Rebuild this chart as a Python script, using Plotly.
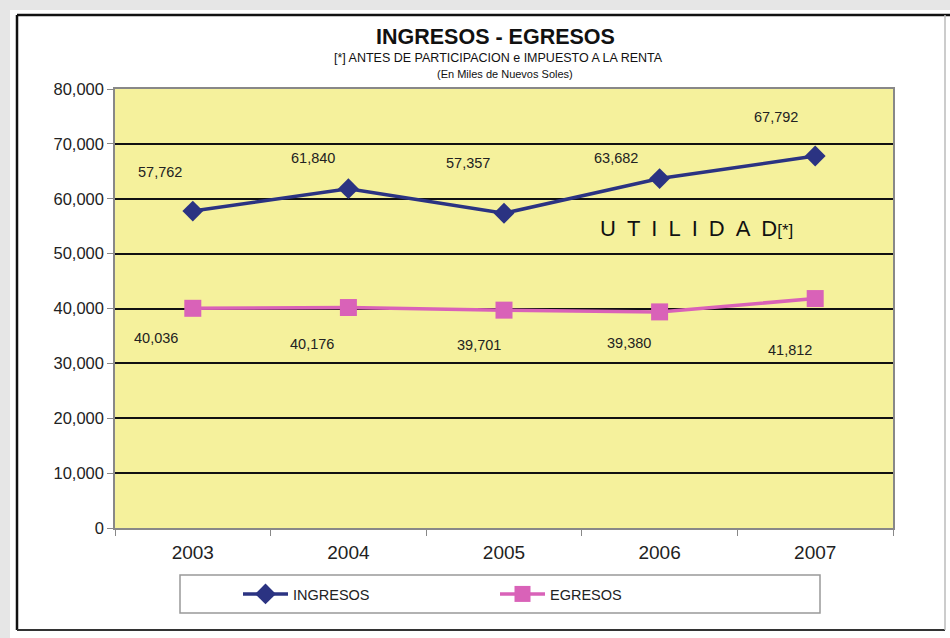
import plotly.graph_objects as go

years = ["2003", "2004", "2005", "2006", "2007"]
ingresos = [57762, 61840, 57357, 63682, 67792]
egresos = [40036, 40176, 39701, 39380, 41812]
y_ticks = [0, 10000, 20000, 30000, 40000, 50000, 60000, 70000, 80000]

# label offsets (px) for data labels
ing_dx = [-33, -35, -36, -44, -39]
ing_dy = [39, 31, 50, 21, 39]
egr_dx = [-37, -36, -25, -31, -25]
egr_dy = [-30, -36, -35, -31, -51]

W, H = 950, 638
L, R, T, B = 115, 893, 89, 528
pw, ph = R - L, B - T

def px(x):
    return (x - L) / pw

def py(y):
    return (B - y) / ph

NAVY = "#2B3382"
PINK = "#D962B8"
FONT = "Arial, Liberation Sans, sans-serif"

fig = go.Figure()
fig.add_trace(go.Scatter(
    x=years, y=ingresos, name="INGRESOS", mode="lines+markers",
    line=dict(color=NAVY, width=3.5),
    marker=dict(symbol="diamond", size=16, color=NAVY),
))
fig.add_trace(go.Scatter(
    x=years, y=egresos, name="EGRESOS", mode="lines+markers",
    line=dict(color=PINK, width=3.5),
    marker=dict(symbol="square", size=17, color=PINK),
))

annotations = []
for i, (v, dx, dy) in enumerate(zip(ingresos, ing_dx, ing_dy)):
    annotations.append(dict(x=i, y=v, xref="x", yref="y", text=f"{v:,}", showarrow=False,
                            xshift=dx, yshift=dy, font=dict(family=FONT, size=14.5, color="#222")))
for i, (v, dx, dy) in enumerate(zip(egresos, egr_dx, egr_dy)):
    annotations.append(dict(x=i, y=v, xref="x", yref="y", text=f"{v:,}", showarrow=False,
                            xshift=dx, yshift=dy, font=dict(family=FONT, size=14.5, color="#222")))

annotations.append(dict(
    x=px(598), y=py(228), xref="paper", yref="paper", xanchor="left", yanchor="middle",
    text="U\u2002T\u2002I\u2002L\u2002I\u2002D\u2002A\u2002D<span style='font-size:17px'>[*]</span>",
    showarrow=False, font=dict(family=FONT, size=22, color="#111")))

# titles (pixel positions converted to paper)
annotations.append(dict(x=px(495), y=py(37), xref="paper", yref="paper", text="<b>INGRESOS - EGRESOS</b>",
                        showarrow=False, xanchor="center", yanchor="middle",
                        font=dict(family=FONT, size=21.5, color="#111")))
annotations.append(dict(x=px(498), y=py(58), xref="paper", yref="paper",
                        text="[*] ANTES DE PARTICIPACION e IMPUESTO A LA RENTA",
                        showarrow=False, xanchor="center", yanchor="middle",
                        font=dict(family=FONT, size=12.5, color="#111")))
annotations.append(dict(x=px(505), y=py(74), xref="paper", yref="paper",
                        text="(En Miles de Nuevos Soles)",
                        showarrow=False, xanchor="center", yanchor="middle",
                        font=dict(family=FONT, size=11, color="#111")))

shapes = [
    # outer light shadow strips
    dict(type="rect", xref="paper", yref="paper", x0=px(0), x1=px(10), y0=py(638), y1=py(0),
         line=dict(width=0), fillcolor="#E6E6E6", layer="below"),
    dict(type="rect", xref="paper", yref="paper", x0=px(0), x1=px(950), y0=py(10), y1=py(0),
         line=dict(width=0), fillcolor="#E6E6E6", layer="below"),
    # outer frame: top, left, bottom dark; right gray
    dict(type="line", xref="paper", yref="paper", x0=px(17), x1=px(950), y0=py(15), y1=py(15),
         line=dict(color="#111", width=2.5), layer="below"),
    dict(type="line", xref="paper", yref="paper", x0=px(17), x1=px(17), y0=py(15), y1=py(630),
         line=dict(color="#111", width=2.5), layer="below"),
    dict(type="line", xref="paper", yref="paper", x0=px(17), x1=px(945), y0=py(630), y1=py(630),
         line=dict(color="#333", width=2), layer="below"),
    dict(type="line", xref="paper", yref="paper", x0=px(945), x1=px(945), y0=py(15), y1=py(630),
         line=dict(color="#BBBBBB", width=1.5), layer="below"),
    # legend box
    dict(type="rect", xref="paper", yref="paper", x0=px(180), x1=px(820), y0=py(613), y1=py(575),
         line=dict(color="#999", width=1.5), fillcolor="white", layer="below"),
]

fig.update_layout(
    width=W, height=H,
    margin=dict(l=L, r=W - R, t=T, b=H - B, autoexpand=False),
    paper_bgcolor="white",
    plot_bgcolor="#F5F19C",
    font=dict(family=FONT, color="#222"),
    showlegend=True,
    legend=dict(orientation="h", x=px(238), xanchor="left", y=py(594), yanchor="middle",
                entrywidth=197, entrywidthmode="pixels", bgcolor="rgba(0,0,0,0)",
                font=dict(family=FONT, size=14.5, color="#222"), itemwidth=45),
    annotations=annotations,
    shapes=shapes,
    xaxis=dict(type="category", tickson="boundaries", ticks="outside", ticklen=6, tickcolor="#888",
               showgrid=False, showline=True, linecolor="#888", linewidth=1.5, mirror=True,
               ticklabelstandoff=6,
               tickfont=dict(family=FONT, size=19, color="#222"), range=[-0.5, 4.5]),
    yaxis=dict(range=[0, 80000], tickvals=y_ticks, tickformat=",d", ticks="outside", ticklen=6,
               tickcolor="#888", showgrid=True, gridcolor="#111", gridwidth=2,
               showline=True, linecolor="#888", linewidth=1.5, mirror=True, zeroline=False,
               tickfont=dict(family=FONT, size=16.5, color="#222")),
)

fig.write_html("out.html", config={"displayModeBar": False},
               post_script="document.body.style.margin='0';document.body.style.overflow='hidden';")
